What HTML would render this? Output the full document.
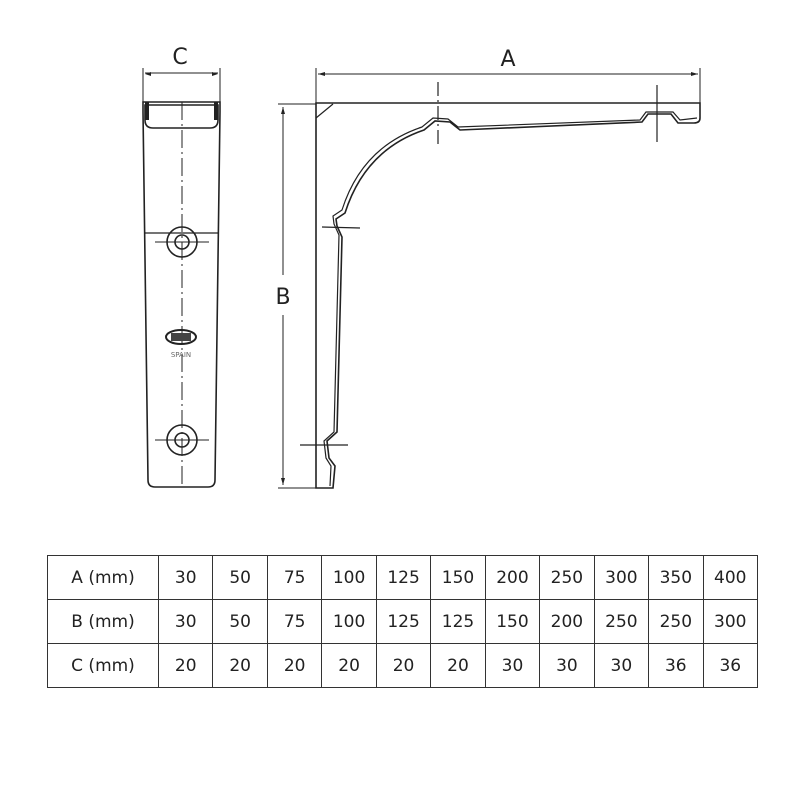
<!DOCTYPE html>
<html><head><style>
body{margin:0;background:#fff;width:800px;height:800px;overflow:hidden}
svg{position:absolute;left:0;top:0}
table{position:absolute;left:47px;top:555px;width:711px;table-layout:fixed;border-collapse:collapse;font-family:"DejaVu Sans","Liberation Sans",sans-serif;font-size:17px;color:#222}
td{border:1.5px solid #333;height:43px;text-align:center;padding:0;overflow:hidden;white-space:nowrap}
td:first-child{width:110px}
</style></head><body>
<svg width="800" height="800" viewBox="0 0 800 800" fill="none" stroke="#222" stroke-width="1.6">
<line x1="143" y1="68" x2="143" y2="105" stroke-width="1"/>
<line x1="220" y1="68" x2="220" y2="105" stroke-width="1"/>
<line x1="145" y1="73" x2="218" y2="73" stroke-width="1"/>
<path d="M145 74l6-2v4z M218 74l-6-2v4z" fill="#222" stroke="none"/>
<text x="180" y="64" font-family="DejaVu Sans" font-size="22" fill="#222" stroke="none" text-anchor="middle">C</text>
<path d="M143 102 L220 102 L220 112 L215 480 Q215 487 208 487 L155 487 Q148 487 148 480 L143 112 Z"/>
<path d="M145 105 L218 105 L218 120 Q218 128 210 128 L153 128 Q145 128 145 120 Z" fill="none"/>
<rect x="145" y="102" width="4" height="18" fill="#222" stroke="none"/>
<rect x="214" y="102" width="4" height="18" fill="#222" stroke="none"/>
<line x1="182" y1="102" x2="182" y2="487" stroke-width="1" stroke-dasharray="18 4 2 4"/>
<line x1="145" y1="233" x2="218" y2="233" stroke-width="1.2"/>
<circle cx="182" cy="242" r="15"/><circle cx="182" cy="242" r="7"/>
<line x1="155" y1="242" x2="209" y2="242" stroke-width="1"/>
<circle cx="182" cy="440" r="15"/><circle cx="182" cy="440" r="7"/>
<line x1="155" y1="440" x2="209" y2="440" stroke-width="1"/>
<ellipse cx="181" cy="337" rx="15" ry="7" stroke-width="2"/>
<rect x="171" y="333" width="20" height="8" fill="#444" stroke="none"/>
<text x="181" y="357" font-family="DejaVu Sans" font-size="7" fill="#666" stroke="none" text-anchor="middle">SPAIN</text>
<line x1="316" y1="68" x2="316" y2="105" stroke-width="1"/>
<line x1="700" y1="68" x2="700" y2="105" stroke-width="1"/>
<line x1="318" y1="74" x2="698" y2="74" stroke-width="1"/>
<path d="M318 74l7-2v4z M698 74l-7-2v4z" fill="#222" stroke="none"/>
<text x="508" y="66" font-family="DejaVu Sans" font-size="22" fill="#222" stroke="none" text-anchor="middle">A</text>
<line x1="278" y1="104" x2="316" y2="104" stroke-width="1"/>
<line x1="278" y1="488" x2="316" y2="488" stroke-width="1"/>
<line x1="283" y1="107" x2="283" y2="275" stroke-width="1"/>
<line x1="283" y1="315" x2="283" y2="485" stroke-width="1"/>
<path d="M283 107l-2 7h4z M283 485l-2-7h4z" fill="#222" stroke="none"/>
<text x="283" y="304" font-family="DejaVu Sans" font-size="22" fill="#222" stroke="none" text-anchor="middle">B</text>
<path d="M316 103 L700 103 L700 118 Q700 123 694 123 L678 123 L671 114 L648 114 L642 122 L460 130 L450 122 L435 121 L424 130 Q365 150 345 213 L336 219 L337 226 L342 237 L337 432 L327 441 L329 458 L335 466 L333 488 L316 488 Z"/>
<path d="M697 118 L680 120 L673 112 L646 112 L640 120 L458 127 L448 119 L433 118 L422 127 Q362 147 342 210 L333 216 L334 224 L339 235 L334 432 L324 441 L326 458 L331 466 L330 486" stroke-width="1.2"/>
<path d="M316 118 L333 104" stroke-width="1.2"/>
<line x1="438" y1="82" x2="438" y2="145" stroke-width="1.2" stroke-dasharray="14 4 2 4"/>
<line x1="657" y1="85" x2="657" y2="142" stroke-width="1.2"/>
<line x1="322" y1="227" x2="360" y2="228" stroke-width="1.2"/>
<line x1="300" y1="445" x2="348" y2="445" stroke-width="1.2"/>
</svg>
<table>
<tr><td>A (mm)</td><td>30</td><td>50</td><td>75</td><td>100</td><td>125</td><td>150</td><td>200</td><td>250</td><td>300</td><td>350</td><td>400</td></tr>
<tr><td>B (mm)</td><td>30</td><td>50</td><td>75</td><td>100</td><td>125</td><td>125</td><td>150</td><td>200</td><td>250</td><td>250</td><td>300</td></tr>
<tr><td>C (mm)</td><td>20</td><td>20</td><td>20</td><td>20</td><td>20</td><td>20</td><td>30</td><td>30</td><td>30</td><td>36</td><td>36</td></tr>
</table>
</body></html>
